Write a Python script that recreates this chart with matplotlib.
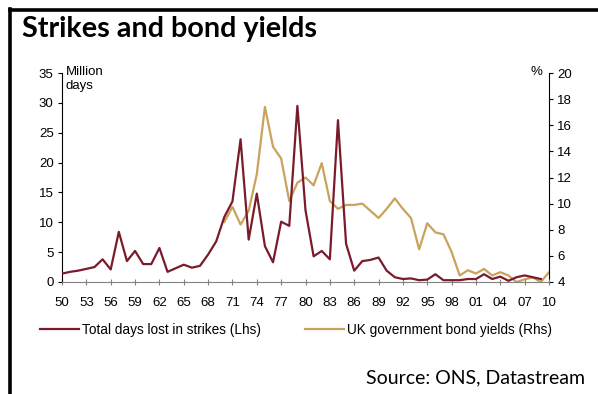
import matplotlib
matplotlib.use('Agg')
import matplotlib.pyplot as plt
from matplotlib.lines import Line2D

## series
strike_years = list(range(1950, 2010))
days_lost = [1.4, 1.7, 1.9, 2.2, 2.5, 3.8, 2.1, 8.4, 3.5, 5.2,
             3.0, 3.0, 5.7, 1.7, 2.3, 2.9, 2.4, 2.7, 4.6, 6.8,
             10.9, 13.5, 23.9, 7.1, 14.8, 6.0, 3.3, 10.1, 9.4, 29.5,
             12.0, 4.3, 5.2, 3.8, 27.1, 6.4, 1.9, 3.5, 3.7, 4.1,
             1.9, 0.8, 0.5, 0.6, 0.3, 0.4, 1.3, 0.3, 0.3, 0.3,
             0.5, 0.5, 1.3, 0.5, 0.9, 0.2, 0.8, 1.1, 0.8, 0.5]

yield_years = list(range(1970, 2011))
bond_yields = [8.6, 9.75, 8.4, 9.45, 12.25, 17.4, 14.35, 13.45, 10.2, 11.6,
               12.0, 11.4, 13.1, 10.2, 9.6, 9.9, 9.9, 10.0, 9.45, 8.9,
               9.6, 10.4, 9.6, 8.9, 6.5, 8.5, 7.8, 7.65, 6.3, 4.5,
               4.9, 4.65, 5.0, 4.5, 4.75, 4.5, 4.0, 4.2, 4.35, 4.0,
               4.75]

xticks = list(range(1950, 2011, 3))
xlabels = ['%02d' % (y % 100) for y in xticks]

red = '#7a1b2b'
gold = '#c9a35c'

fig = plt.figure(figsize=(5.98, 3.94), dpi=100)
plt.rcParams['font.family'] = ['Liberation Sans', 'DejaVu Sans']

# frame lines on top and left
fig.add_artist(Line2D([10 / 598, 10 / 598], [0, 1 - 9 / 394], transform=fig.transFigure,
                      color='black', lw=2.6, solid_capstyle='projecting'))
fig.add_artist(Line2D([10 / 598, 1], [1 - 10 / 394, 1 - 10 / 394], transform=fig.transFigure,
                      color='black', lw=2.6, solid_capstyle='projecting'))

fig.text(22 / 598, 1 - 37 / 394, 'Strikes and bond yields', fontsize=20.7, fontweight='bold',
         family='Lato', ha='left', va='baseline')

ax = fig.add_axes([62 / 598, 1 - 282 / 394, (549 - 62) / 598, (282 - 73) / 394])
ax2 = ax.twinx()

ax.plot(strike_years, days_lost, color=red, lw=1.6, zorder=3)
ax2.plot(yield_years, bond_yields, color=gold, lw=1.6)
ax.set_zorder(ax2.get_zorder() + 1)
ax.patch.set_visible(False)

ax.set_xlim(1950, 2010)
ax.set_ylim(0, 35)
ax.set_yticks(range(0, 36, 5))
ax2.set_ylim(4, 20)
ax2.set_yticks(range(4, 21, 2))
ax.set_xticks(xticks)
ax.set_xticklabels(xlabels)

for a in (ax, ax2):
    a.spines['top'].set_visible(False)
    a.spines['bottom'].set_color('#808080')
    a.spines['left'].set_linewidth(0.8)
    a.spines['right'].set_linewidth(0.8)
ax.spines['right'].set_visible(False)
ax2.spines['left'].set_visible(False)
ax2.spines['bottom'].set_visible(False)

ax.tick_params(axis='y', direction='out', length=3, width=0.8, labelsize=9.5, pad=3)
ax2.tick_params(axis='y', direction='out', length=3, width=0.8, labelsize=9.5, pad=3)
ax.tick_params(axis='x', direction='inout', length=5, width=0.8, color='#808080',
               labelsize=9.5, pad=8)

fig.text(66 / 598, 1 - 79 / 394, 'Million\ndays', fontsize=9.5, ha='left', va='center',
         linespacing=1.3)
fig.text(536 / 598, 1 - 72 / 394, '%', fontsize=9.5, ha='center', va='center')

# legend row
handles = [Line2D([], [], color=red, lw=1.6), Line2D([], [], color=gold, lw=1.6)]
fig.legend(handles, ['Total days lost in strikes (Lhs)', 'UK government bond yields (Rhs)'],
           loc='center', bbox_to_anchor=(296 / 598, 1 - 330 / 394), ncol=2, frameon=False,
           fontsize=9.8, handlelength=2.9, handletextpad=0.2, columnspacing=3.2)

fig.text(585 / 598, 1 - 378 / 394, 'Source: ONS, Datastream', fontsize=14, family='Lato',
         ha='right', va='center')

fig.savefig('out.png', dpi=100)
